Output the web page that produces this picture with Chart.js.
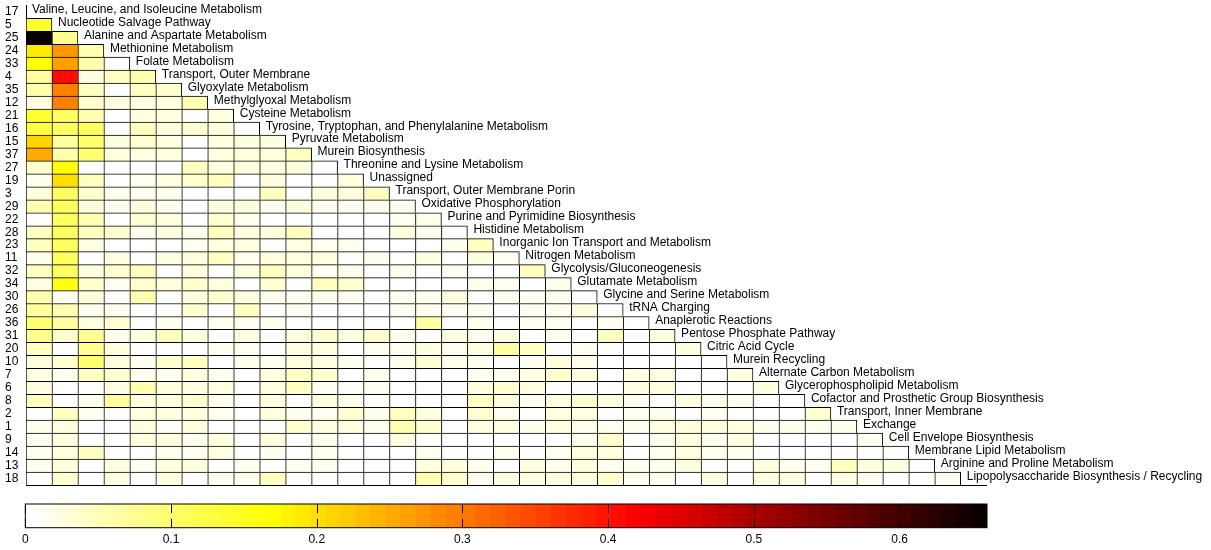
<!DOCTYPE html>
<html>
<head>
<meta charset="utf-8">
<script src="https://cdn.jsdelivr.net/npm/chart.js@4.4.1/dist/chart.umd.min.js"></script>
<style>
  html, body { margin: 0; padding: 0; background: #fff; }
  #wrap { position: relative; width: 1211px; height: 550px; }
  #heat { position: absolute; left: 0; top: 0; }
  #cbar { position: absolute; left: 0; top: 495px; }
</style>
</head>
<body>
<div id="wrap">
  <canvas id="heat" width="1211" height="495"></canvas>
  <canvas id="cbar" width="1211" height="55"></canvas>
</div>
<script>
// Row identifiers, top to bottom
const rowIds = ['17','5','25','24','33','4','35','12','21','16','15','37','27','19','3','29','22','28',
  '23','11','32','34','30','26','36','31','20','10','7','6','8','2','1','9','14','13','18'];

// Pathway name for each row/column, written along the diagonal
const pathwayNames = [
  'Valine, Leucine, and Isoleucine Metabolism',
  'Nucleotide Salvage Pathway',
  'Alanine and Aspartate Metabolism',
  'Methionine Metabolism',
  'Folate Metabolism',
  'Transport, Outer Membrane',
  'Glyoxylate Metabolism',
  'Methylglyoxal Metabolism',
  'Cysteine Metabolism',
  'Tyrosine, Tryptophan, and Phenylalanine Metabolism',
  'Pyruvate Metabolism',
  'Murein Biosynthesis',
  'Threonine and Lysine Metabolism',
  'Unassigned',
  'Transport, Outer Membrane Porin',
  'Oxidative Phosphorylation',
  'Purine and Pyrimidine Biosynthesis',
  'Histidine Metabolism',
  'Inorganic Ion Transport and Metabolism',
  'Nitrogen Metabolism',
  'Glycolysis/Gluconeogenesis',
  'Glutamate Metabolism',
  'Glycine and Serine Metabolism',
  'tRNA Charging',
  'Anaplerotic Reactions',
  'Pentose Phosphate Pathway',
  'Citric Acid Cycle',
  'Murein Recycling',
  'Alternate Carbon Metabolism',
  'Glycerophospholipid Metabolism',
  'Cofactor and Prosthetic Group Biosynthesis',
  'Transport, Inner Membrane',
  'Exchange',
  'Cell Envelope Biosynthesis',
  'Membrane Lipid Metabolism',
  'Arginine and Proline Metabolism',
  'Lipopolysaccharide Biosynthesis / Recycling'
];

// Lower-triangular values: row k holds columns 0..k-1
const cellValues = [
  [],
  [0.14],
  [0.65, 0.08],
  [0.19, 0.275, 0.055],
  [0.17, 0.26, 0.055, 0],
  [0.065, 0.41, 0.03, 0.05, 0.055],
  [0.06, 0.295, 0.045, 0, 0.05, 0.035],
  [0.025, 0.29, 0.035, 0.025, 0.025, 0.03, 0.055],
  [0.14, 0.11, 0.055, 0, 0.03, 0.025, 0, 0.025],
  [0.125, 0.105, 0.11, 0, 0.045, 0.025, 0.035, 0.03, 0],
  [0.215, 0.065, 0.1, 0.03, 0.035, 0.025, 0, 0.03, 0.025, 0.025],
  [0.25, 0.055, 0.095, 0.03, 0.025, 0.03, 0, 0.03, 0.03, 0.03, 0.05],
  [0.035, 0.165, 0, 0, 0, 0, 0.045, 0.03, 0.025, 0.025, 0.025, 0],
  [0.02, 0.2, 0.05, 0, 0.02, 0.025, 0.035, 0.05, 0, 0.03, 0, 0, 0.03],
  [0.03, 0.105, 0.035, 0.02, 0.02, 0.02, 0, 0, 0, 0.045, 0.01, 0.025, 0.025, 0.045],
  [0.055, 0.105, 0.03, 0.02, 0.025, 0.02, 0, 0.025, 0.025, 0.015, 0.025, 0.02, 0.02, 0.015, 0.02],
  [0, 0.105, 0.055, 0, 0.035, 0.03, 0, 0.035, 0.02, 0, 0, 0, 0, 0, 0.015, 0.015],
  [0.05, 0.105, 0.05, 0.035, 0.02, 0.03, 0.02, 0.045, 0.03, 0.03, 0.05, 0, 0, 0, 0.025, 0.02, 0],
  [0.045, 0.105, 0.025, 0, 0, 0, 0.02, 0.025, 0.03, 0, 0.025, 0.02, 0.02, 0, 0, 0, 0.02, 0.045],
  [0.02, 0.105, 0, 0.03, 0, 0.03, 0.025, 0.045, 0.02, 0.03, 0.03, 0.025, 0, 0.015, 0, 0.025, 0, 0.025, 0.02],
  [0.045, 0.105, 0.025, 0.035, 0.045, 0, 0.025, 0, 0.025, 0.045, 0.03, 0.02, 0.02, 0, 0.02, 0, 0.02, 0, 0, 0.045],
  [0.025, 0.16, 0.035, 0.02, 0.035, 0.03, 0.035, 0.025, 0, 0.035, 0, 0.045, 0.035, 0, 0, 0, 0, 0.02, 0.015, 0, 0.02],
  [0.06, 0.02, 0.025, 0, 0.055, 0, 0.03, 0.035, 0.03, 0.02, 0.02, 0.015, 0.015, 0, 0.02, 0.02, 0.025, 0, 0.02, 0.02, 0.015, 0],
  [0.07, 0.06, 0.02, 0.02, 0, 0, 0.035, 0, 0.045, 0, 0.02, 0, 0, 0, 0.015, 0.02, 0.015, 0.015, 0, 0.02, 0.015, 0.03, 0],
  [0.095, 0.07, 0.03, 0.035, 0, 0.02, 0, 0.02, 0.02, 0.02, 0, 0, 0, 0, 0, 0.065, 0, 0.015, 0, 0.015, 0.015, 0, 0.02, 0],
  [0.08, 0.035, 0.08, 0.02, 0.025, 0.045, 0.025, 0, 0.025, 0, 0.025, 0.035, 0.025, 0.035, 0.02, 0, 0.025, 0.02, 0.03, 0, 0.02, 0, 0.045, 0, 0.03],
  [0.045, 0, 0.08, 0.025, 0, 0, 0, 0.02, 0.02, 0, 0.025, 0.03, 0, 0.015, 0.015, 0.03, 0.02, 0.03, 0.07, 0.045, 0, 0.015, 0, 0, 0, 0.025],
  [0.03, 0.035, 0.1, 0.03, 0.02, 0.035, 0.045, 0, 0.02, 0.02, 0.025, 0.03, 0.015, 0, 0.02, 0.035, 0.015, 0.02, 0, 0.015, 0.03, 0.015, 0, 0, 0, 0, 0],
  [0.03, 0.02, 0.045, 0.035, 0.02, 0.02, 0.03, 0.02, 0, 0.025, 0.05, 0.035, 0, 0.015, 0, 0, 0, 0.015, 0.02, 0.03, 0.035, 0.025, 0, 0.025, 0.025, 0, 0, 0.03],
  [0.03, 0, 0, 0.025, 0.06, 0.025, 0.03, 0.025, 0, 0.025, 0.05, 0.015, 0, 0.015, 0, 0, 0, 0.03, 0.035, 0.03, 0, 0, 0, 0.025, 0.025, 0, 0, 0, 0.03],
  [0.045, 0, 0.02, 0.065, 0.025, 0.03, 0.035, 0.02, 0, 0.025, 0, 0.025, 0.015, 0, 0, 0, 0.01, 0.045, 0.03, 0.015, 0.025, 0.035, 0.03, 0.02, 0, 0.025, 0.015, 0.015, 0, 0],
  [0, 0.045, 0.02, 0, 0.03, 0.03, 0.025, 0.02, 0, 0.025, 0.02, 0.02, 0.035, 0.015, 0.05, 0.025, 0, 0.035, 0.015, 0, 0.03, 0.025, 0, 0.02, 0.02, 0, 0.015, 0, 0, 0, 0.035],
  [0.02, 0.025, 0, 0, 0.03, 0, 0.025, 0, 0, 0, 0.035, 0.03, 0.025, 0.02, 0.06, 0.035, 0, 0.025, 0.03, 0.02, 0.025, 0.02, 0.02, 0.02, 0.03, 0.025, 0.03, 0.025, 0.02, 0.02, 0.02, 0.015],
  [0.02, 0.025, 0, 0, 0.03, 0.025, 0.02, 0.03, 0, 0.025, 0, 0.02, 0, 0, 0.025, 0, 0.01, 0, 0, 0, 0, 0.02, 0.035, 0, 0.02, 0.03, 0.02, 0.025, 0, 0, 0, 0, 0.02],
  [0.02, 0.03, 0.045, 0, 0, 0.02, 0.02, 0.03, 0, 0.02, 0, 0.02, 0, 0, 0, 0.015, 0, 0, 0.02, 0, 0.02, 0.03, 0.025, 0, 0.02, 0.025, 0.02, 0.02, 0, 0, 0, 0, 0, 0],
  [0.015, 0.03, 0, 0.025, 0.02, 0.025, 0.03, 0, 0.02, 0, 0.02, 0.02, 0, 0, 0, 0.03, 0.025, 0.015, 0, 0.03, 0.02, 0.025, 0.02, 0.015, 0.02, 0.03, 0, 0, 0.03, 0.02, 0.02, 0.045, 0.03, 0.03, 0],
  [0, 0.035, 0, 0.025, 0, 0.025, 0, 0.02, 0.02, 0.045, 0, 0, 0, 0, 0, 0.055, 0.035, 0.02, 0.025, 0.025, 0.03, 0.025, 0.035, 0.02, 0.02, 0, 0.025, 0, 0.03, 0.03, 0, 0.025, 0.02, 0, 0, 0.02]
];

// Colour scale range and colour-bar tick values
const colorMax = 0.66;
const colorSteps = 64;
const colorbarTicks = [0, 0.1, 0.2, 0.3, 0.4, 0.5, 0.6];

const FONT = '"Liberation Sans", Arial, Helvetica, sans-serif';
Chart.defaults.font.family = FONT;
Chart.defaults.font.size = 12;
Chart.defaults.color = '#000';

// Inverted "hot" colour map: white -> yellow -> red -> black, 64 steps
function hotColor(v) {
  let c = Math.floor(v / colorMax * colorSteps);
  c = Math.max(0, Math.min(colorSteps - 1, c));
  const i = colorSteps - c;
  const n = Math.floor(3 / 8 * colorSteps);
  const r = Math.min(i / n, 1);
  const g = Math.max(0, Math.min((i - n) / n, 1));
  const b = Math.max(0, Math.min((i - 2 * n) / (colorSteps - 2 * n), 1));
  return 'rgb(' + Math.round(r * 255) + ',' + Math.round(g * 255) + ',' + Math.round(b * 255) + ')';
}

// One floating bar per matrix cell
const cells = [];
cellValues.forEach((row, k) => {
  row.forEach((v, j) => {
    cells.push({ x: [j, j + 1], y: rowIds[k], v: v, last: j === row.length - 1 });
  });
});

// Pathway names along the diagonal
const diagonalLabels = {
  id: 'diagonalLabels',
  afterDatasetsDraw(chart) {
    const { ctx, scales: { x, y } } = chart;
    ctx.save();
    ctx.font = '12px ' + FONT;
    ctx.fillStyle = '#000';
    ctx.textAlign = 'left';
    ctx.textBaseline = 'alphabetic';
    pathwayNames.forEach((name, k) => {
      ctx.fillText(name, x.getPixelForValue(k) + 6, y.getPixelForValue(k) + 1);
    });
    ctx.restore();
  }
};

new Chart(document.getElementById('heat'), {
  type: 'bar',
  data: {
    datasets: [{
      data: cells,
      backgroundColor: ctx => ctx.raw ? hotColor(ctx.raw.v) : '#fff',
      borderColor: '#000',
      borderWidth: ctx => ctx.raw ? { top: 1, left: 1, bottom: 0, right: ctx.raw.last ? 1 : 0 } : 0,
      borderSkipped: false,
      barPercentage: 1,
      categoryPercentage: 1
    }]
  },
  options: {
    indexAxis: 'y',
    responsive: false,
    animation: false,
    devicePixelRatio: 1,
    layout: { padding: { left: 5, top: 5.35, right: 224.3, bottom: 10 } },
    plugins: { legend: { display: false }, tooltip: { enabled: false } },
    scales: {
      x: {
        type: 'linear', position: 'bottom', min: 0, max: rowIds.length,
        grid: { display: false, drawTicks: false },
        ticks: { display: false },
        border: { display: true, color: '#000', width: 1 },
        afterFit(s) { s.height = 0; s.paddingLeft = 0; s.paddingRight = 0; }
      },
      y: {
        type: 'category', labels: rowIds, offset: true,
        grid: { display: false, drawTicks: false },
        border: { display: true, color: '#000', width: 1 },
        ticks: { autoSkip: false, crossAlign: 'far', padding: 0, color: '#000', font: { size: 12 } },
        afterFit(s) { s.width = 21; s.paddingTop = 0; s.paddingBottom = 0; }
      }
    }
  },
  plugins: [diagonalLabels]
});

// Colour bar: 64 contiguous bars spanning the value range
const barSteps = [];
for (let c = 0; c < colorSteps; c++) {
  barSteps.push({ x: [c * colorMax / colorSteps, (c + 1) * colorMax / colorSteps], y: 'scale', v: (c + 0.5) * colorMax / colorSteps });
}

const colorbarFrame = {
  id: 'colorbarFrame',
  afterDatasetsDraw(chart) {
    const { ctx, chartArea: a, scales: { x } } = chart;
    ctx.save();
    ctx.strokeStyle = '#000';
    ctx.lineWidth = 1;
    x.ticks.forEach(t => {
      const px = Math.round(x.getPixelForValue(t.value)) + 0.5;
      ctx.beginPath();
      ctx.moveTo(px, a.top); ctx.lineTo(px, a.top + 9);
      ctx.moveTo(px, a.bottom - 9); ctx.lineTo(px, a.bottom);
      ctx.stroke();
    });
    ctx.strokeRect(a.left, a.top, a.right - a.left, a.bottom - a.top);
    ctx.restore();
  }
};

new Chart(document.getElementById('cbar'), {
  type: 'bar',
  data: {
    datasets: [{
      data: barSteps,
      backgroundColor: ctx => ctx.raw ? hotColor(ctx.raw.v) : '#fff',
      borderWidth: 0,
      barPercentage: 1,
      categoryPercentage: 1
    }]
  },
  options: {
    indexAxis: 'y',
    responsive: false,
    animation: false,
    devicePixelRatio: 1,
    layout: { padding: { left: 25.3, top: 9, right: 224, bottom: 0 } },
    plugins: { legend: { display: false }, tooltip: { enabled: false } },
    scales: {
      x: {
        type: 'linear', position: 'bottom', min: 0, max: colorMax,
        grid: { display: false, drawTicks: false },
        border: { display: false },
        afterBuildTicks(s) { s.ticks = colorbarTicks.map(v => ({ value: v })); },
        ticks: { padding: 5, color: '#000', font: { size: 12 }, callback: v => String(Math.round(v * 10) / 10) },
        afterFit(s) { s.height = 22.3; s.paddingLeft = 0; s.paddingRight = 0; }
      },
      y: {
        type: 'category', labels: ['scale'], display: false
      }
    }
  },
  plugins: [colorbarFrame]
});
</script>
</body>
</html>
